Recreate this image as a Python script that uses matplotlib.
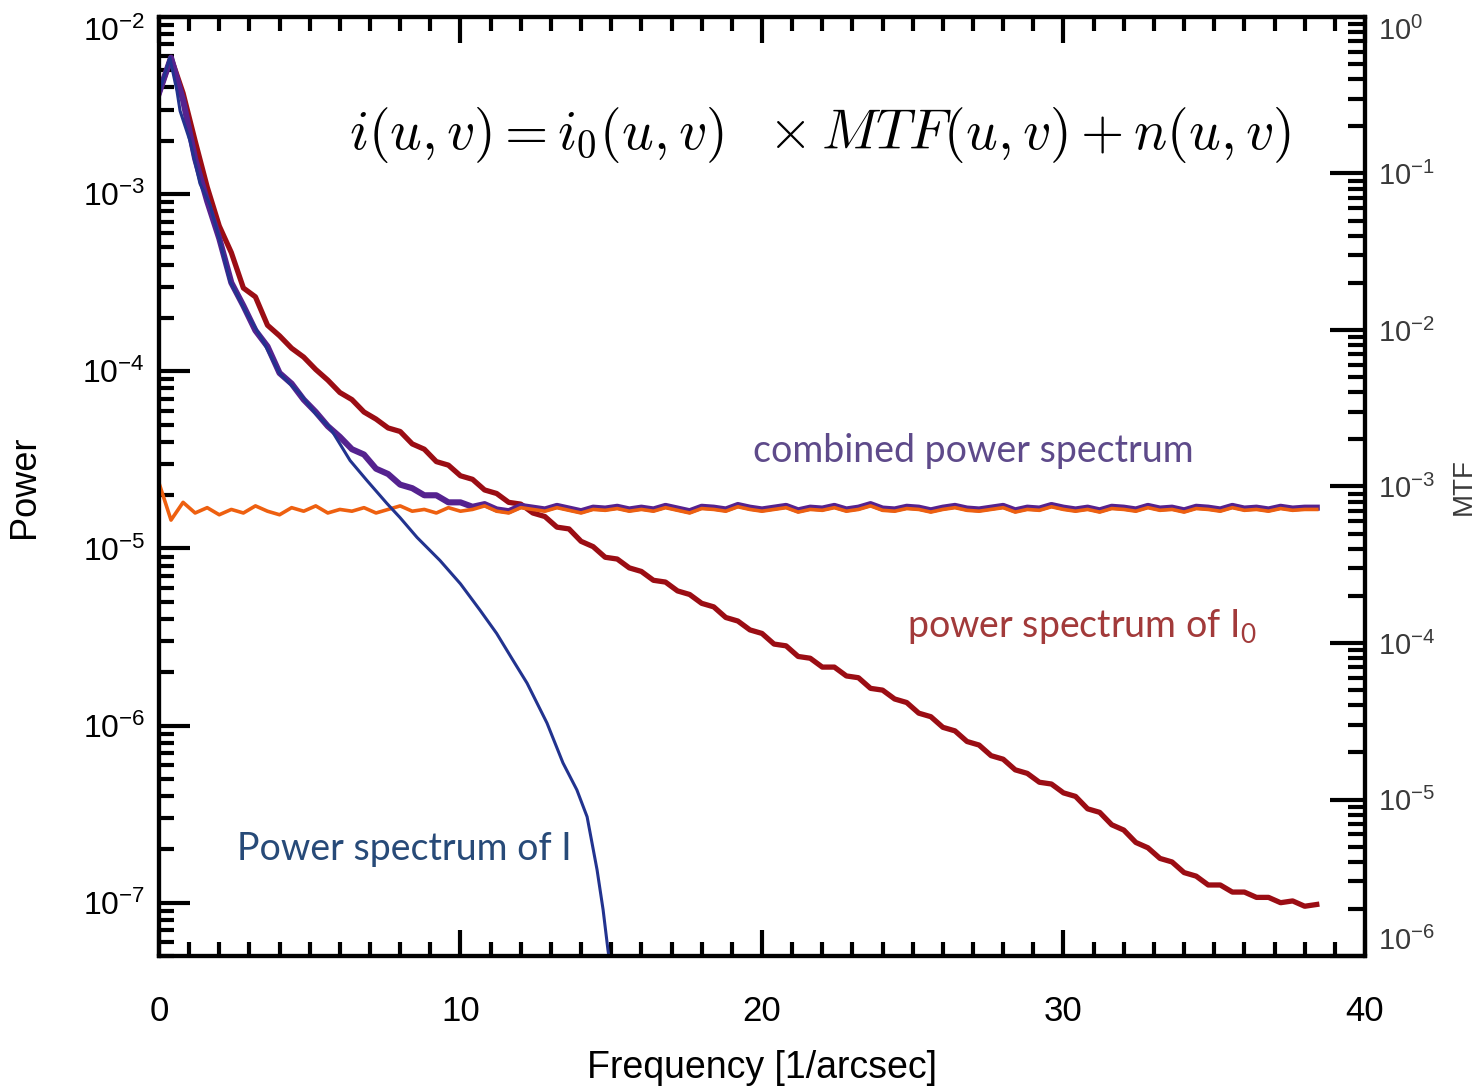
import numpy as np
import matplotlib
matplotlib.use('Agg')
import matplotlib.pyplot as plt
from matplotlib.ticker import MultipleLocator, LogLocator

plt.rcParams['font.family'] = ['Liberation Sans', 'DejaVu Sans']
plt.rcParams['mathtext.fontset'] = 'custom'
plt.rcParams['mathtext.rm'] = 'Liberation Sans'
plt.rcParams['mathtext.it'] = 'Liberation Sans:italic'

# Frequency grid [1/arcsec] shared by the noisy spectra (0 ... 38.4, step 0.4)
freq = np.arange(97) * 0.4

# log10 of the power spectrum of I0 (dark red)
red_log = [
    -2.43, -2.23, -2.43, -2.70, -2.96, -3.18, -3.33, -3.53, -3.58, -3.74,
    -3.80, -3.87, -3.92, -3.99, -4.05, -4.12, -4.16, -4.23, -4.27, -4.32,
    -4.34, -4.41, -4.44, -4.51, -4.53, -4.59, -4.61, -4.67, -4.69, -4.74,
    -4.75, -4.80, -4.82, -4.88, -4.89, -4.96, -4.99, -5.05, -5.06, -5.11,
    -5.13, -5.18, -5.19, -5.24, -5.26, -5.31, -5.33, -5.39, -5.41, -5.46,
    -5.48, -5.54, -5.55, -5.61, -5.62, -5.67, -5.67, -5.72, -5.73, -5.79,
    -5.80, -5.85, -5.87, -5.93, -5.95, -6.01, -6.03, -6.09, -6.11, -6.17,
    -6.19, -6.25, -6.27, -6.32, -6.33, -6.38, -6.40, -6.47, -6.49, -6.56,
    -6.59, -6.66, -6.69, -6.75, -6.77, -6.83, -6.85, -6.90, -6.90, -6.94,
    -6.94, -6.97, -6.97, -7.00, -6.99, -7.02, -7.01]

# log10 of the combined power spectrum (purple)
purple_log = [
    -2.43, -2.23, -2.47, -2.80, -3.04, -3.25, -3.50, -3.63, -3.77, -3.86,
    -4.01, -4.07, -4.16, -4.23, -4.31, -4.37, -4.44, -4.47, -4.55, -4.58,
    -4.64, -4.66, -4.70, -4.70, -4.74, -4.74, -4.765, -4.75, -4.78, -4.79,
    -4.76, -4.77, -4.78, -4.76, -4.775, -4.79, -4.77, -4.775, -4.765, -4.78,
    -4.77, -4.78, -4.76, -4.775, -4.79, -4.765, -4.77, -4.78, -4.755, -4.77,
    -4.78, -4.77, -4.76, -4.785, -4.77, -4.775, -4.76, -4.78, -4.77, -4.75,
    -4.775, -4.78, -4.765, -4.77, -4.785, -4.77, -4.76, -4.775, -4.78, -4.77,
    -4.76, -4.785, -4.77, -4.775, -4.755, -4.77, -4.78, -4.77, -4.785, -4.765,
    -4.77, -4.78, -4.76, -4.775, -4.77, -4.785, -4.765, -4.77, -4.78, -4.76,
    -4.775, -4.77, -4.78, -4.765, -4.775, -4.77, -4.77]

# log10 of the noise power spectrum (orange)
orange_log = [
    -4.63, -4.84, -4.74, -4.80, -4.77, -4.81, -4.78, -4.80, -4.76, -4.79,
    -4.81, -4.77, -4.79, -4.76, -4.80, -4.78, -4.79, -4.77, -4.80, -4.78,
    -4.76, -4.79, -4.78, -4.80, -4.77, -4.79, -4.78, -4.76, -4.79, -4.80,
    -4.77, -4.78, -4.79, -4.77, -4.785, -4.80, -4.78, -4.785, -4.775, -4.79,
    -4.78, -4.79, -4.77, -4.785, -4.80, -4.775, -4.78, -4.79, -4.765, -4.78,
    -4.79, -4.78, -4.77, -4.795, -4.78, -4.785, -4.77, -4.79, -4.78, -4.76,
    -4.785, -4.79, -4.775, -4.78, -4.795, -4.78, -4.77, -4.785, -4.79, -4.78,
    -4.77, -4.795, -4.78, -4.785, -4.765, -4.78, -4.79, -4.78, -4.795, -4.775,
    -4.78, -4.79, -4.77, -4.785, -4.78, -4.795, -4.775, -4.78, -4.79, -4.77,
    -4.785, -4.78, -4.79, -4.775, -4.785, -4.78, -4.78]

# Power spectrum of I (thin blue), its own frequency samples
blue_freq = [0, 0.36, 0.6, 0.7, 1.03, 1.36, 1.69, 2.02, 2.35, 2.92,
             3.45, 4.01, 4.68, 5.2, 5.67, 6.34, 6.9, 7.56, 7.99, 8.56,
             9.32, 10.0, 10.65, 11.2, 11.74, 12.21, 12.87, 13.4, 13.86, 14.2,
             14.53, 14.73, 14.89, 15.0]
blue_log = [-2.43, -2.23, -2.42, -2.53, -2.70, -2.94, -3.06, -3.265, -3.49, -3.676,
            -3.828, -4.014, -4.127, -4.24, -4.318, -4.504, -4.617, -4.746, -4.825, -4.938,
            -5.068, -5.20, -5.349, -5.48, -5.631, -5.761, -5.986, -6.211, -6.363, -6.515,
            -6.814, -7.039, -7.264, -7.40]

power_ticks = [1e-7, 1e-6, 1e-5, 1e-4, 1e-3, 1e-2]
mtf_ticks = [1e-6, 1e-5, 1e-4, 1e-3, 1e-2, 1e-1, 1e0]

fig = plt.figure(figsize=(14.8, 10.88), dpi=100)
ax = fig.add_axes([0.1074, 0.1213, 0.8149, 0.8631])

ax.plot(freq, np.power(10.0, red_log), color='#9b0d14', lw=3.8, zorder=2)
ax.plot(freq, np.power(10.0, purple_log), color='#55228f', lw=4.4, zorder=3)
ax.plot(freq, np.power(10.0, orange_log), color='#ee6010', lw=2.6, zorder=4)
ax.plot(blue_freq, np.power(10.0, blue_log), color='#22338f', lw=2.2, zorder=5)

ax.set_yscale('log')
ax.set_xlim(0, 40)
ax.set_ylim(5e-8, 1e-2)
ax.xaxis.set_major_locator(MultipleLocator(10))
ax.xaxis.set_minor_locator(MultipleLocator(1))
ax.set_yticks(power_ticks)
ax.yaxis.set_minor_locator(LogLocator(base=10, subs=np.arange(2, 10), numticks=20))

for s in ax.spines.values():
    s.set_linewidth(3)

ax.tick_params(which='both', direction='in', top=True, right=False, width=3)
ax.tick_params(axis='y', which='major', length=22, labelsize=23, pad=10)
ax.tick_params(axis='y', which='minor', length=11)
ax.tick_params(axis='x', which='major', length=19, labelsize=25, pad=28)
ax.tick_params(axis='x', which='minor', length=10)
# the top label sits just inside the frame, as in the original
ax.yaxis.get_major_ticks()[-1].label1.set_verticalalignment('top')

ax.set_xlabel('Frequency [1/arcsec]', fontsize=27)
ax.xaxis.set_label_coords(0.5, -0.100)
ax.set_ylabel('Power', fontsize=26)
ax.yaxis.set_label_coords(-0.097, 0.5)

# Right axis: MTF
ax2 = ax.twinx()
ax2.set_yscale('log')
ax2.set_ylim(1e-6, 1)
ax2.set_yticks(mtf_ticks)
ax2.yaxis.set_minor_locator(LogLocator(base=10, subs=np.arange(2, 10), numticks=20))
ax2.tick_params(which='both', direction='in', width=3, labelcolor='#3a3a3a')
ax2.tick_params(which='major', length=25, labelsize=21, pad=9)
ax2.tick_params(which='minor', length=12)
for s in ax2.spines.values():
    s.set_linewidth(3)
mticks = ax2.yaxis.get_major_ticks()
mticks[0].label2.set_verticalalignment('bottom')
mticks[-1].label2.set_verticalalignment('top')
ax2.set_ylabel('MTF', fontsize=20, color='#3a3a3a')
ax2.yaxis.set_label_coords(1.071, 0.5)

# Equation and curve labels
ax.text(21.9, 10 ** -2.746, r'$i(u,v) = i_0(u,v)\ \ \times MTF(u,v) + n(u,v)$',
        fontsize=40, math_fontfamily='cm', ha='center', va='baseline')
ax.text(19.7, 10 ** -4.515, 'combined power spectrum', family='Lato',
        fontsize=27, color='#5e4a8a', va='baseline')
ax.text(24.8, 10 ** -5.501, r'power spectrum of $\mathdefault{I_0}$', family='Lato',
        fontsize=27, color='#a23a3a', va='baseline')
ax.text(2.59, 10 ** -6.758, 'Power spectrum of I', family='Lato',
        fontsize=27, color='#274a78', va='baseline')

fig.savefig('out.png', dpi=100)
